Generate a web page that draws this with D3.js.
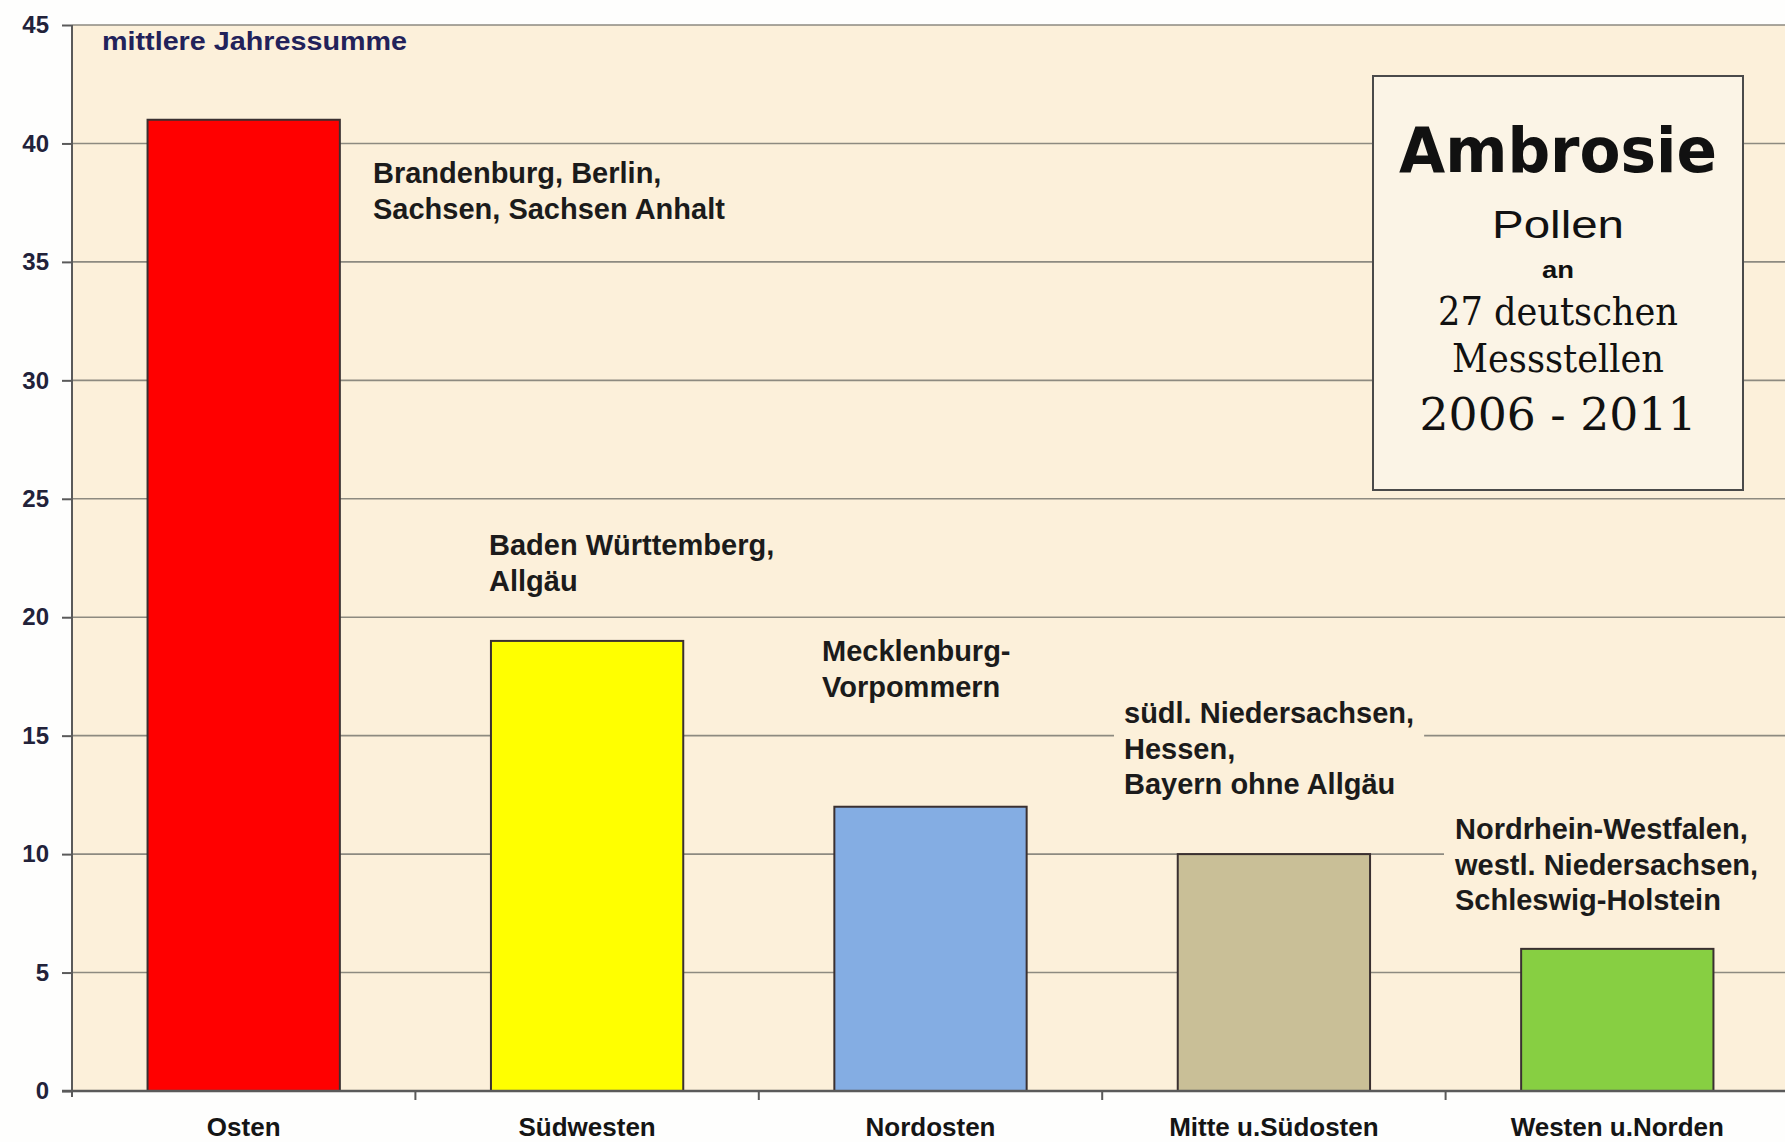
<!DOCTYPE html>
<html>
<head>
<meta charset="utf-8">
<script src="https://cdn.jsdelivr.net/npm/d3@7"></script>
<style>
  html, body { margin: 0; padding: 0; background: #fefefd; }
  svg { display: block; }
</style>
</head>
<body>
<svg id="chart" width="1785" height="1142"></svg>
<script>
// Ambrosia pollen: mean annual sum per German region, 2006-2011
const categories = ["Osten", "Südwesten", "Nordosten", "Mitte u.Südosten", "Westen u.Norden"];
const values = [41, 19, 12, 10, 6];
const barColors = ["#ff0000", "#ffff00", "#84ade3", "#c9bf97", "#87cf42"];
const regionNotes = [
  ["Brandenburg, Berlin,", "Sachsen, Sachsen Anhalt"],
  ["Baden Württemberg,", "Allgäu"],
  ["Mecklenburg-", "Vorpommern"],
  ["südl. Niedersachsen,", "Hessen,", "Bayern ohne Allgäu"],
  ["Nordrhein-Westfalen,", "westl. Niedersachsen,", "Schleswig-Holstein"]
];
const yTicks = [0, 5, 10, 15, 20, 25, 30, 35, 40, 45];
const yCaption = "mittlere Jahressumme";
const titleLines = ["Ambrosie", "Pollen", "an", "27 deutschen", "Messstellen", "2006 - 2011"];

// layout
const plot = { left: 72, right: 1789, top: 25, bottom: 1091 };
const noteAnchors = [ // left x, first baseline of each note block
  [373, 183], [489, 555], [822, 661], [1124, 723], [1455, 839]
];
const noteLineGap = 35.5;

const svg = d3.select("#chart");

const x = d3.scaleBand()
  .domain(categories)
  .range([plot.left, plot.right])
  .paddingInner(0.44)
  .paddingOuter(0.22);

const y = d3.scaleLinear()
  .domain([0, 45])
  .range([plot.bottom, plot.top]);

// plot background
svg.append("rect")
  .attr("x", plot.left).attr("y", plot.top)
  .attr("width", 1785 - plot.left).attr("height", plot.bottom - plot.top)
  .attr("fill", "#fcf0da");

// horizontal gridlines
svg.append("g")
  .selectAll("line")
  .data(yTicks.filter(d => d > 0))
  .join("line")
  .attr("x1", plot.left).attr("x2", 1785)
  .attr("y1", d => y(d)).attr("y2", d => y(d))
  .attr("stroke", "#8d8a80")
  .attr("stroke-width", 1.6);

// region notes (with background that masks the gridlines)
const noteFont = "'Liberation Sans', Arial, sans-serif";
regionNotes.forEach((lines, i) => {
  const [nx, ny] = noteAnchors[i];
  const g = svg.append("g");
  const bg = g.append("rect").attr("fill", "#fcf0da");
  const t = g.append("text")
    .attr("font-family", noteFont)
    .attr("font-weight", "bold")
    .attr("font-size", 29)
    .attr("fill", "#1b1b1b");
  lines.forEach((ln, k) => {
    t.append("tspan").attr("x", nx).attr("y", ny + k * noteLineGap).text(ln);
  });
  const bb = t.node().getBBox();
  const left = bb.x - 10;
  const right = Math.min(1785, bb.x + bb.width + 10 > 1740 ? 1785 : bb.x + bb.width + 10);
  bg.attr("x", left).attr("y", bb.y - 2)
    .attr("width", right - left).attr("height", bb.height + 4);
});

// bars
svg.append("g")
  .selectAll("rect")
  .data(categories)
  .join("rect")
  .attr("x", d => x(d))
  .attr("width", x.bandwidth())
  .attr("y", (d, i) => y(values[i]))
  .attr("height", (d, i) => y(0) - y(values[i]))
  .attr("fill", (d, i) => barColors[i])
  .attr("stroke", "#3a3030")
  .attr("stroke-width", 2);

// axes
const yAxis = svg.append("g")
  .attr("transform", `translate(${plot.left},0)`)
  .call(d3.axisLeft(y).tickValues(yTicks).tickSize(10).tickPadding(13));
yAxis.select(".domain").attr("stroke", "#5a5a5a").attr("stroke-width", 2)
  .attr("d", `M0,${plot.top}V${plot.bottom + 6}`);
yAxis.selectAll(".tick line").attr("stroke", "#5a5a5a").attr("stroke-width", 2);
yAxis.selectAll(".tick text")
  .attr("font-family", noteFont)
  .attr("font-weight", "bold")
  .attr("font-size", 24)
  .attr("fill", "#22223a");

const step = x.step();
const dividers = categories.slice(1).map(c => x(c) - (step - x.bandwidth()) / 2);
const xAxis = svg.append("g");
xAxis.append("line")
  .attr("x1", plot.left - 10).attr("x2", 1785)
  .attr("y1", y(0)).attr("y2", y(0))
  .attr("stroke", "#5a5a5a").attr("stroke-width", 2.5);
xAxis.selectAll("line.div")
  .data(dividers)
  .join("line")
  .attr("class", "div")
  .attr("x1", d => d).attr("x2", d => d)
  .attr("y1", y(0)).attr("y2", y(0) + 9)
  .attr("stroke", "#5a5a5a").attr("stroke-width", 2);
xAxis.selectAll("text")
  .data(categories)
  .join("text")
  .attr("x", d => x(d) + x.bandwidth() / 2)
  .attr("y", 1136)
  .attr("text-anchor", "middle")
  .attr("font-family", noteFont)
  .attr("font-weight", "bold")
  .attr("font-size", 26)
  .attr("fill", "#151515")
  .text(d => d);

// value caption
svg.append("text")
  .attr("x", 102).attr("y", 50)
  .attr("font-family", noteFont)
  .attr("font-weight", "bold")
  .attr("font-size", 25)
  .attr("textLength", 305)
  .attr("lengthAdjust", "spacingAndGlyphs")
  .attr("fill", "#22225a")
  .text(yCaption);

// title box
const box = { x: 1373, y: 76, w: 370, h: 414 };
svg.append("rect")
  .attr("x", box.x).attr("y", box.y).attr("width", box.w).attr("height", box.h)
  .attr("fill", "#fbf4e6")
  .attr("stroke", "#4a4a4a")
  .attr("stroke-width", 2);
const cx = box.x + box.w / 2;
const titleStyle = [
  { family: "'Comic Sans MS', 'DejaVu Sans', sans-serif", weight: "bold", size: 62, base: 172, len: 318 },
  { family: noteFont, weight: "normal", size: 38, base: 238, len: 132 },
  { family: noteFont, weight: "bold", size: 23, base: 278, len: 32 },
  { family: "Georgia, 'DejaVu Serif', serif", weight: "normal", size: 40, base: 325, len: 240 },
  { family: "Georgia, 'DejaVu Serif', serif", weight: "normal", size: 40, base: 372, len: 212 },
  { family: "Georgia, 'DejaVu Serif', serif", weight: "normal", size: 44, base: 430, len: 277 }
];
svg.append("g")
  .selectAll("text")
  .data(titleLines)
  .join("text")
  .attr("x", cx)
  .attr("y", (d, i) => titleStyle[i].base)
  .attr("text-anchor", "middle")
  .attr("font-family", (d, i) => titleStyle[i].family)
  .attr("font-weight", (d, i) => titleStyle[i].weight)
  .attr("font-size", (d, i) => titleStyle[i].size)
  .attr("textLength", (d, i) => titleStyle[i].len)
  .attr("lengthAdjust", "spacingAndGlyphs")
  .attr("fill", "#111")
  .text(d => d);
</script>
</body>
</html>
